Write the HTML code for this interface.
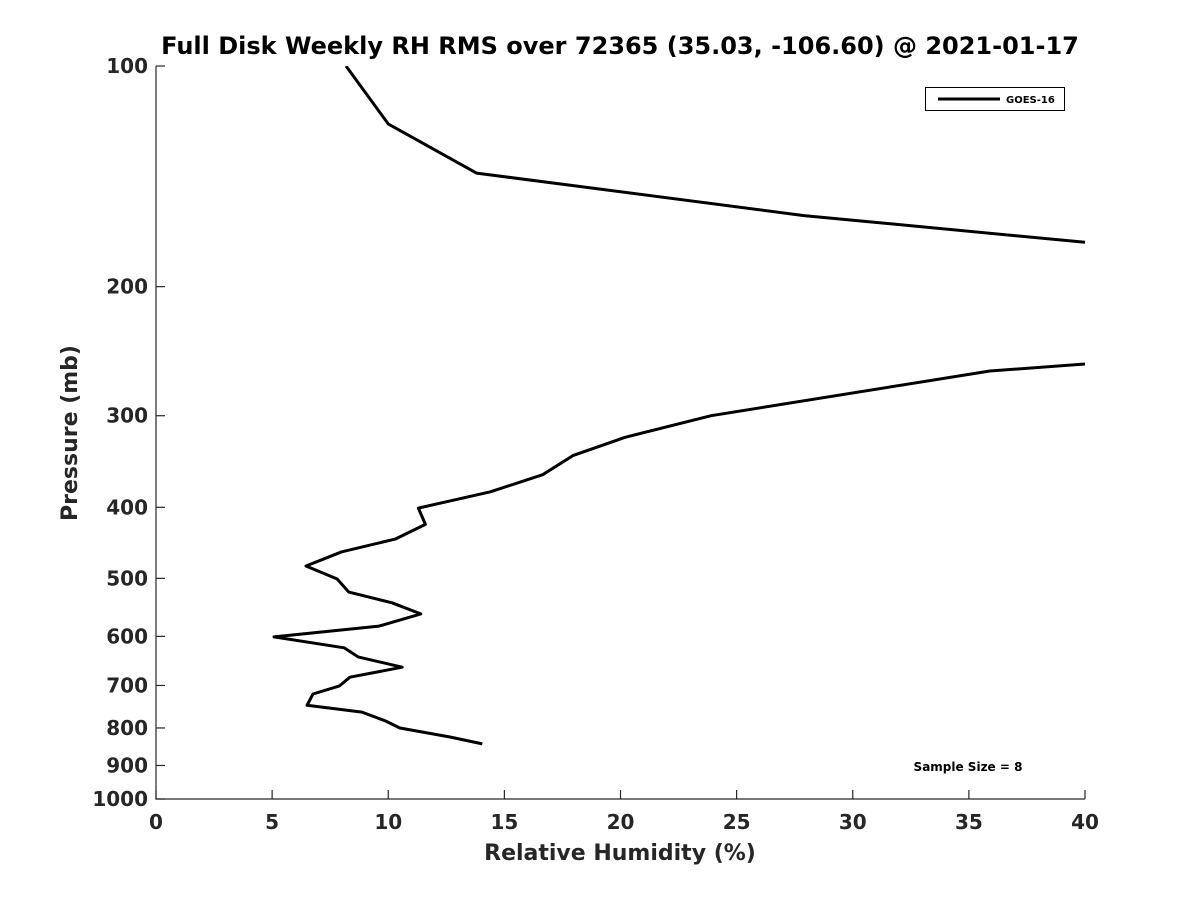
<!DOCTYPE html>
<html><head><meta charset="utf-8"><style>
body{margin:0;background:#fff;}
svg{display:block;font-family:"DejaVu Sans","Liberation Sans",sans-serif;font-weight:bold;fill:#262626;}
</style></head><body>
<svg id="chart" width="1200" height="900" viewBox="0 0 1200 900">
<defs><clipPath id="clip"><rect x="156" y="66" width="929" height="733"/></clipPath></defs>
<text x="620" y="54" text-anchor="middle" font-size="24" fill="#000">Full Disk Weekly RH RMS over 72365 (35.03, -106.60) @ 2021-01-17</text>
<g id="axes"></g>
<path id="series" fill="none" stroke="#000" stroke-width="3" stroke-linejoin="round" clip-path="url(#clip)"/>
<g>
<rect x="925.5" y="87.5" width="139" height="23" fill="#fff" stroke="#000" stroke-width="1"/>
<line x1="938" y1="99" x2="1000" y2="99" stroke="#000" stroke-width="3"/>
<text x="1006" y="103" font-size="10" fill="#000">GOES-16</text>
</g>
<text x="968" y="771" text-anchor="middle" font-size="12" fill="#000">Sample Size = 8</text>
<text x="620" y="860" text-anchor="middle" font-size="22">Relative Humidity (%)</text>
<text transform="translate(77,433) rotate(-90)" text-anchor="middle" font-size="22">Pressure (mb)</text>
</svg>
<script>
const pressures=[100,120,140,160,174,180,200,250,260.7,300,321,340,361,381,401,422,442,460,481,501,522,540,559,581,601,622,640,661,682,701,719,745,761,783,800,823,841];
const rhValues=[8.18,10.0,13.8,27.9,40,45,60,43.7,35.9,23.9,20.2,17.95,16.65,14.4,11.3,11.6,10.3,8.0,6.46,7.8,8.3,10.16,11.4,9.6,5.08,8.1,8.7,10.6,8.35,7.9,6.76,6.5,8.87,9.9,10.5,12.66,14.05];
const xTicks=[0,5,10,15,20,25,30,35,40];
const yTicks=[100,200,300,400,500,600,700,800,900,1000];
const X0=156,X1=1085,Y0=66,Y1=799;
function xs(v){return X0+(v-0)/40*(X1-X0);}
function ys(p){return Y0+(Math.log10(p)-2)/1*(Y1-Y0);}
const NS="http://www.w3.org/2000/svg";
const axes=document.getElementById('axes');
function mk(t,a){const e=document.createElementNS(NS,t);for(const k in a)e.setAttribute(k,a[k]);return e;}
const ax=mk('path',{d:`M${X0},${Y0}V${Y1}H${X1}`,fill:'none',stroke:'#262626','stroke-width':1.2});


axes.appendChild(ax);
xTicks.forEach(v=>{const x=xs(v);
const l=mk('line',{x1:x,x2:x,y1:Y1,y2:Y1-9,stroke:'#262626','stroke-width':1.2});


axes.appendChild(l);
const t=mk('text',{x:x,y:Y1+30,'text-anchor':'middle','font-size':20});t.textContent=v;


axes.appendChild(t);});
yTicks.forEach(v=>{const y=ys(v);
const l=mk('line',{x1:X0,x2:X0+9,y1:y,y2:y,stroke:'#262626','stroke-width':1.2});


axes.appendChild(l);
const t=mk('text',{x:X0-8,y:y+7,'text-anchor':'end','font-size':20});t.textContent=v;


axes.appendChild(t);});
document.getElementById('series').setAttribute('d',pressures.map((p,i)=>(i?'L':'M')+xs(rhValues[i]).toFixed(1)+','+ys(p).toFixed(1)).join(''));
</script>
</body></html>
